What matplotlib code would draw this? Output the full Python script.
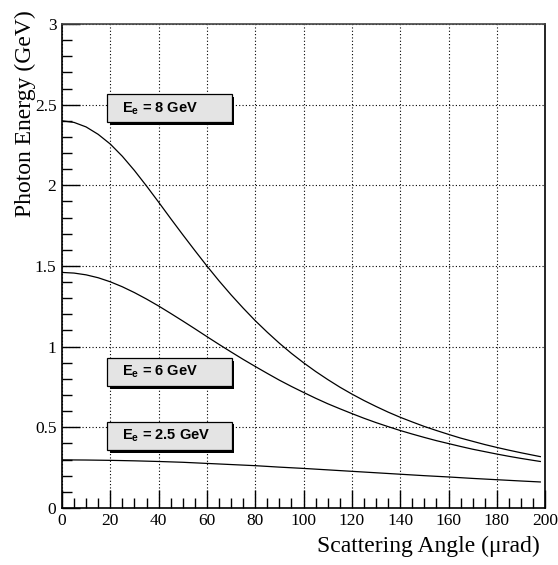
import matplotlib
matplotlib.use("Agg")
import matplotlib.pyplot as plt
from matplotlib.patches import Rectangle
from matplotlib.ticker import MultipleLocator, FuncFormatter

# scattering angle (urad) and photon energy (GeV)
angle = [0, 5, 10, 15, 20, 25, 30, 35, 40, 45, 50, 55, 60, 65, 70, 75, 80, 85, 90, 95,
         100, 105, 110, 115, 120, 125, 130, 135, 140, 145, 150, 155, 160, 165, 170, 175,
         180, 185, 190, 195, 198]
energy_8 = [2.400, 2.390, 2.362, 2.316, 2.256, 2.180, 2.092, 1.996, 1.896, 1.794, 1.694,
            1.596, 1.500, 1.408, 1.321, 1.239, 1.161, 1.089, 1.021, 0.958, 0.900, 0.846,
            0.796, 0.749, 0.706, 0.666, 0.629, 0.594, 0.562, 0.533, 0.505, 0.480, 0.456,
            0.433, 0.413, 0.393, 0.375, 0.358, 0.342, 0.327, 0.318]
energy_6 = [1.460, 1.456, 1.445, 1.427, 1.402, 1.371, 1.335, 1.295, 1.252, 1.206, 1.159,
            1.111, 1.062, 1.014, 0.967, 0.921, 0.877, 0.834, 0.792, 0.753, 0.716, 0.680,
            0.646, 0.615, 0.585, 0.556, 0.529, 0.504, 0.480, 0.458, 0.437, 0.417, 0.399,
            0.381, 0.364, 0.349, 0.334, 0.320, 0.307, 0.295, 0.288]
angle_25 = [0, 10, 20, 30, 40, 50, 60, 70, 80, 90, 100, 110, 120, 130, 140, 150, 160,
            170, 180, 190, 198]
energy_25 = [0.298, 0.297, 0.295, 0.292, 0.288, 0.283, 0.276, 0.269, 0.262, 0.253, 0.245,
             0.236, 0.227, 0.218, 0.209, 0.200, 0.192, 0.183, 0.175, 0.167, 0.161]

labels = ["E$_{\\mathregular{e}}$ = 8 GeV", "E$_{\\mathregular{e}}$ = 6 GeV",
          "E$_{\\mathregular{e}}$ = 2.5 GeV"]

serif = "Liberation Serif"

fig = plt.figure(figsize=(5.58, 5.65), dpi=100)
ax = fig.add_axes([0.111, 0.101, 0.866, 0.8565])

ax.plot(angle, energy_8, color="black", lw=0.9)
ax.plot(angle, energy_6, color="black", lw=0.9)
ax.plot(angle_25, energy_25, color="black", lw=0.9)

ax.set_xlim(0, 200)
ax.set_ylim(0, 3)

# ROOT style ticks and dotted grid
ax.xaxis.set_major_locator(MultipleLocator(20))
ax.xaxis.set_minor_locator(MultipleLocator(5))
ax.yaxis.set_major_locator(MultipleLocator(0.5))
ax.yaxis.set_minor_locator(MultipleLocator(0.1))
ax.xaxis.set_major_formatter(FuncFormatter(lambda v, p: f"{v:g}"))
ax.yaxis.set_major_formatter(FuncFormatter(lambda v, p: f"{v:g}"))
ax.tick_params(which="both", direction="in", top=False, right=False, width=1.0)
ax.tick_params(which="major", length=13, pad=4, labelsize=12.5)
ax.tick_params(which="minor", length=7)
ax.grid(True, which="major", linestyle=(0, (1, 2)), color="black", lw=0.8)
ax.set_axisbelow(True)

for sp in ax.spines.values():
    sp.set_linewidth(1.2)
ax.spines["top"].set_color("#444444")

for lab in ax.get_xticklabels() + ax.get_yticklabels():
    lab.set_fontfamily(serif)

fig.text(540 / 558, 1 - 546 / 565, "Scattering Angle (\u03bcrad)", fontfamily=serif,
         fontsize=17, ha="right", va="center")
fig.text(25 / 558, 1 - 10 / 565, "Photon Energy (GeV)", fontfamily=serif,
         fontsize=17, ha="center", va="top", rotation=90)

# legend boxes with shadow
boxes = [(18.6, 2.39, 2.565), (18.6, 0.755, 0.93), (18.6, 0.36, 0.535)]
dx, dy = 1.1, 0.017
for (x0, y0, y1), text in zip(boxes, labels):
    w = 70.3 - x0
    h = y1 - y0
    ax.add_patch(Rectangle((x0 + dx, y0 - dy), w, h, facecolor="black",
                           edgecolor="none", zorder=4))
    ax.add_patch(Rectangle((x0, y0), w, h, facecolor="#e4e4e4",
                           edgecolor="black", lw=0.9, zorder=5))
    ax.text(x0 + 6.3, (y0 + y1) / 2, text, fontfamily="Liberation Sans",
            fontweight="bold", fontsize=10.5, va="center", ha="left", zorder=6)

plt.savefig("out.png", dpi=100)
